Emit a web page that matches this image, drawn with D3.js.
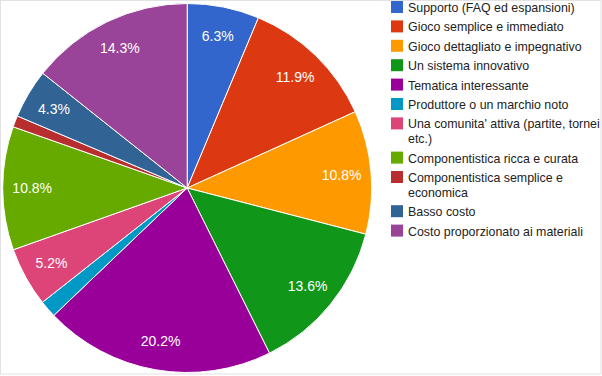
<!DOCTYPE html>
<html><head><meta charset="utf-8">
<script src="https://cdn.jsdelivr.net/npm/d3@7"></script>
<style>html,body{margin:0;padding:0;background:#fff;}svg{display:block;}</style>
</head><body>
<svg id="c" width="602" height="376"></svg>
<script>
const categories = [
  "Supporto (FAQ ed espansioni)",
  "Gioco semplice e immediato",
  "Gioco dettagliato e impegnativo",
  "Un sistema innovativo",
  "Tematica interessante",
  "Produttore o un marchio noto",
  "Una comunita' attiva (partite, tornei etc.)",
  "Componentistica ricca e curata",
  "Componentistica semplice e economica",
  "Basso costo",
  "Costo proporzionato ai materiali"
];
const values = [6.3, 11.9, 10.8, 13.6, 20.2, 1.5, 5.2, 10.8, 1.0, 4.3, 14.3];
const colors = ["#3366cc","#dc3912","#ff9900","#109618","#990099","#0099c6","#dd4477","#66aa00","#b82e2e","#316395","#994499"];

const svg = d3.select("#c");
const W = 602, H = 376;
svg.append("rect").attr("x",0.5).attr("y",0.5).attr("width",W-1.5).attr("height",H-2.5)
  .attr("fill","#fff").attr("stroke","#e2e2e2");

const cx = 187.2, cy = 188, R = 184.5, labelR = 155;
const data = categories.map((c,i)=>({name:c, value:values[i], color:colors[i]}));
const total = d3.sum(values);
const pie = d3.pie().value(d=>d.value).sort(null);
const arcs = pie(data);
const arc = d3.arc().innerRadius(0).outerRadius(R);
const labelArc = d3.arc().innerRadius(labelR).outerRadius(labelR);

const g = svg.append("g").attr("transform",`translate(${cx},${cy})`);
g.selectAll("path").data(arcs).join("path")
  .attr("d", arc).attr("fill", d=>d.data.color)
  .attr("stroke","#fff").attr("stroke-width",1);

g.selectAll("text").data(arcs.filter(d=>d.data.value >= 2)).join("text")
  .attr("transform", d=>`translate(${labelArc.centroid(d)})`)
  .attr("text-anchor","middle").attr("dy","0.36em")
  .attr("font-family","'Liberation Sans', Arial, sans-serif").attr("font-size",14)
  .attr("fill","#fff")
  .text(d=>(d.data.value/total*100).toFixed(1)+"%");

// legend
const lg = svg.append("g");
const lx = 391, tx = 408, maxW = 193;
let y = 1;
data.forEach((d,i)=>{
  lg.append("rect").attr("x",lx).attr("y",y).attr("width",12).attr("height",12).attr("fill",d.color);
  const t = lg.append("text").attr("x",tx).attr("y",y+11)
    .attr("font-family","'Liberation Sans', Arial, sans-serif").attr("font-size",12.4).attr("fill","#222");
  const words = d.name.split(" ");
  let line = [], lines = 0;
  let tspan = t.append("tspan").attr("x",tx).attr("dy",0);
  words.forEach(w=>{
    line.push(w);
    tspan.text(line.join(" "));
    if (tspan.node().getComputedTextLength() > maxW && line.length > 1) {
      line.pop();
      tspan.text(line.join(" "));
      line = [w];
      lines++;
      tspan = t.append("tspan").attr("x",tx).attr("dy",14.8).text(w);
    }
  });
  y += 19.4 + lines*14.8;
});
</script>
</body></html>
